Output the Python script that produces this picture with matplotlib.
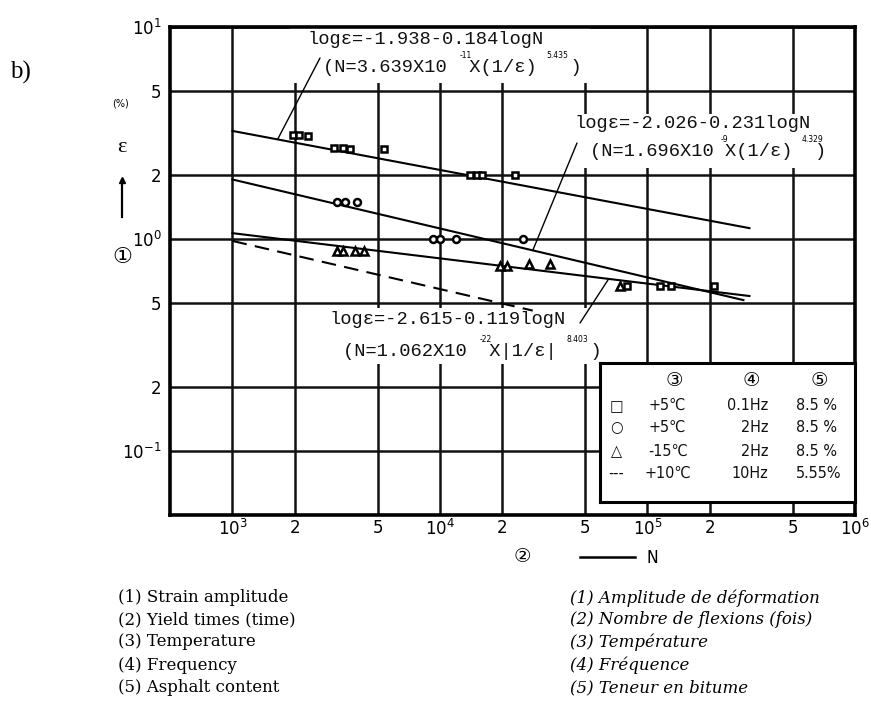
import numpy as np
import matplotlib.pyplot as plt
import matplotlib.transforms as mtransforms
from matplotlib.patches import Rectangle
from matplotlib.ticker import FixedLocator, FixedFormatter, NullLocator

W, H = 871, 702

# fatigue fits: log(eps) = a + b*log(N); eps plotted in units of 1e-3
fit_a = [-1.938, -2.026, -2.615]
fit_b = [-0.184, -0.231, -0.119]
fit_nmin = [1e3, 1e3, 1e3]
fit_nmax = [3.1e5, 2.9e5, 3.1e5]
fit_coef = ['3.639', '1.696', '1.062']
fit_exp10 = ['-11', '-9', '-22']
fit_pow = ['5.435', '4.329', '8.403']

# +5C, 0.1 Hz
sq_n = [1.95e3, 2.1e3, 2.3e3, 3.1e3, 3.4e3, 3.7e3, 5.4e3,
        1.4e4, 1.5e4, 1.6e4, 2.3e4, 8.0e4, 1.15e5, 1.3e5, 2.1e5]
sq_eps = [3.08, 3.08, 3.05, 2.68, 2.68, 2.66, 2.66,
          2.0, 2.0, 2.0, 2.0, 0.6, 0.6, 0.6, 0.6]
# +5C, 2 Hz
ci_n = [3.2e3, 3.5e3, 4.0e3, 9.3e3, 1.0e4, 1.2e4, 2.5e4]
ci_eps = [1.5, 1.5, 1.5, 1.0, 1.0, 1.0, 1.0]
# -15C, 2 Hz
tr_n = [3.2e3, 3.4e3, 3.9e3, 4.3e3, 1.95e4, 2.1e4, 2.7e4, 3.4e4, 7.4e4]
tr_eps = [0.88, 0.88, 0.88, 0.88, 0.75, 0.75, 0.76, 0.76, 0.6]
# +10C, 10 Hz
dash_n = [1e3, 2.8e4]
dash_eps = [0.98, 0.46]

x_ticks = [1e3, 2e3, 5e3, 1e4, 2e4, 5e4, 1e5, 2e5, 5e5, 1e6]
x_labels = ['$10^3$', '2', '5', '$10^4$', '2', '5', '$10^5$', '2', '5', '$10^6$']
y_ticks = [0.1, 0.2, 0.5, 1, 2, 5, 10]
y_labels = ['$10^{-1}$', '2', '5', '$10^0$', '2', '5', '$10^1$']

leg_mark = ['□', '○', '△', '---']
leg_temp = ['+5℃', '+5℃', '-15℃', '+10℃']
leg_freq = ['0.1Hz', '2Hz', '2Hz', '10Hz']
leg_asph = ['8.5 %', '8.5 %', '8.5 %', '5.55%']

notes_en = ['(1) Strain amplitude', '(2) Yield times (time)', '(3) Temperature',
            '(4) Frequency', '(5) Asphalt content']
notes_fr = ['(1) Amplitude de déformation', '(2) Nombre de flexions (fois)',
            '(3) Température', '(4) Fréquence', '(5) Teneur en bitume']

plt.rcParams['font.family'] = ['DejaVu Sans', 'Noto Sans CJK JP']
plt.rcParams['mathtext.fontset'] = 'dejavusans'

fig = plt.figure(figsize=(W / 100, H / 100), dpi=100)
# pixel coordinates measured from the top-left corner
px = mtransforms.Affine2D().scale(1 / W, -1 / H).translate(0, 1) + fig.transFigure

ax = fig.add_axes([170 / W, 1 - 515 / H, 685 / W, 488 / H])
ax.set_xscale('log')
ax.set_yscale('log')
ax.set_xlim(5e2, 1e6)
ax.set_ylim(0.05, 10)
ax.set_axisbelow(True)
ax.xaxis.set_major_locator(FixedLocator(x_ticks))
ax.xaxis.set_major_formatter(FixedFormatter(x_labels))
ax.yaxis.set_major_locator(FixedLocator(y_ticks))
ax.yaxis.set_major_formatter(FixedFormatter(y_labels))
ax.xaxis.set_minor_locator(NullLocator())
ax.yaxis.set_minor_locator(NullLocator())
ax.grid(True, color='#111111', lw=1.8)
ax.tick_params(length=0, labelsize=12)
ax.tick_params(axis='x', pad=3)
ax.tick_params(axis='y', pad=6)
for sp in ax.spines.values():
    sp.set_linewidth(2.6)

def fit_line(i, n):
    return 10 ** (fit_a[i] + fit_b[i] * np.log10(n)) * 1e3

for i in range(3):
    n = np.array([fit_nmin[i], fit_nmax[i]])
    ax.plot(n, fit_line(i, n), color='k', lw=1.5, zorder=2)
ax.plot(dash_n, dash_eps, color='k', lw=1.5, ls=(0, (7, 4)), zorder=2)

mk = dict(ls='none', mfc='white', mec='k', mew=1.8, zorder=3)
ax.plot(sq_n, sq_eps, marker='s', ms=5, **mk)
ax.plot(ci_n, ci_eps, marker='o', ms=5, **mk)
ax.plot(tr_n, tr_eps, marker='^', ms=6, **mk)

# equation labels: first line, second line start, leader start, leader target N
eq_pos = [(308, 40, 323, 68, (320, 58), 1.65e3),
          (575, 123, 590, 152, (577, 143), 2.8e4),
          (330, 320, 343, 352, (580, 323), 6.5e4)]
eq_box = [(290, 28, 300, 55), (568, 114, 282, 54), (325, 308, 285, 56)]
eq_gap = [2, 1, 2]
eq_tail = [3, 2, 3]
mono = dict(family='Liberation Mono', fontsize=13.5, color='#111111')
cw = 11.7
for i in range(3):
    x1, y1, x2, y2, (lx, ly), n_t = eq_pos[i]
    bx, by, bw, bh = eq_box[i]
    ax.add_patch(Rectangle((bx, by), bw, bh, transform=px, facecolor='white',
                           edgecolor='none', zorder=1, clip_on=False))
    ax.text(x1, y1, f'logε={fit_a[i]:.3f}{fit_b[i]:.3f}logN', transform=px,
            ha='left', va='center', zorder=4, **mono)
    bars = '||' if i == 2 else '()'
    head = f'(N={fit_coef[i]}X10'
    mid = f'X{bars[0]}1/ε{bars[1]}'
    line2 = head + ' ' * eq_gap[i] + mid + ' ' * eq_tail[i] + ')'
    ax.text(x2, y2, line2, transform=px, ha='left', va='center', zorder=4, **mono)
    ex_x = x2 + cw * (len(head) + eq_gap[i] / 2) - 4
    pw_x = x2 + cw * (len(head) + eq_gap[i] + len(mid)) + 1
    ax.text(ex_x, y2 - 13, fit_exp10[i], transform=px, ha='left', va='center',
            fontsize=5.5, zorder=4)
    ax.text(pw_x, y2 - 13, fit_pow[i], transform=px, ha='left', va='center',
            fontsize=5.5, zorder=4)
    ax.annotate('', xy=(n_t, fit_line(i, n_t)), xycoords='data',
                xytext=(lx, ly), textcoords=px,
                arrowprops=dict(arrowstyle='-', color='k', lw=1.0,
                                shrinkA=0, shrinkB=0), zorder=3)

# symbol table
lg = fig.add_axes([600 / W, 1 - 502 / H, 255 / W, 139 / H], zorder=5)
lg.set_xticks([])
lg.set_yticks([])
lg.set_xlim(0, 1)
lg.set_ylim(0, 1)
for sp in lg.spines.values():
    sp.set_linewidth(2.2)
tab = dict(fontsize=11.5, va='center', color='#111111', fontstretch='condensed')
lg.text(0.29, 0.875, '③', ha='center', fontsize=14, va='center')
lg.text(0.595, 0.875, '④', ha='center', fontsize=14, va='center')
lg.text(0.86, 0.875, '⑤', ha='center', fontsize=14, va='center')
row_y = [0.695, 0.535, 0.365, 0.205]
for k in range(4):
    lg.text(0.065, row_y[k], leg_mark[k], ha='center', **tab)
    lg.text(0.265, row_y[k], leg_temp[k], ha='center', **tab)
    lg.text(0.66, row_y[k], leg_freq[k], ha='right', **tab)
    lg.text(0.77, row_y[k], leg_asph[k], ha='left', **tab)

# axis captions outside the frame
fig.text(10, 72, 'b)', transform=px, family='Liberation Serif', fontsize=18,
         ha='left', va='center')
fig.text(120, 103, '(%)', transform=px, fontsize=7, ha='center', va='center')
fig.text(122, 148, 'ε', transform=px, family='Liberation Serif', fontsize=16,
         ha='center', va='center')
fig.add_artist(plt.Line2D([122 / W, 122 / W], [1 - 217 / H, 1 - 180 / H],
                          color='k', lw=1.6))
fig.add_artist(plt.Line2D([122 / W], [1 - 180 / H], marker='^', color='k', ms=5))
fig.text(122, 257, '①', transform=px, fontsize=16, ha='center', va='center')
fig.text(522, 557, '②', transform=px, fontsize=14, ha='center', va='center')
fig.add_artist(plt.Line2D([580 / W, 635 / W], [1 - 557 / H, 1 - 557 / H],
                          color='k', lw=1.8))
fig.text(652, 558, 'N', transform=px, fontsize=12.5, ha='center', va='center',
         fontstretch='condensed')

note_y = [598, 620, 642, 665, 688]
for k in range(5):
    fig.text(118, note_y[k], notes_en[k], transform=px, family='DejaVu Serif',
             fontsize=12, ha='left', va='center')
    fig.text(570, note_y[k], notes_fr[k], transform=px, family='DejaVu Serif',
             style='italic', fontsize=12, ha='left', va='center')

fig.savefig('out.png', dpi=100)
